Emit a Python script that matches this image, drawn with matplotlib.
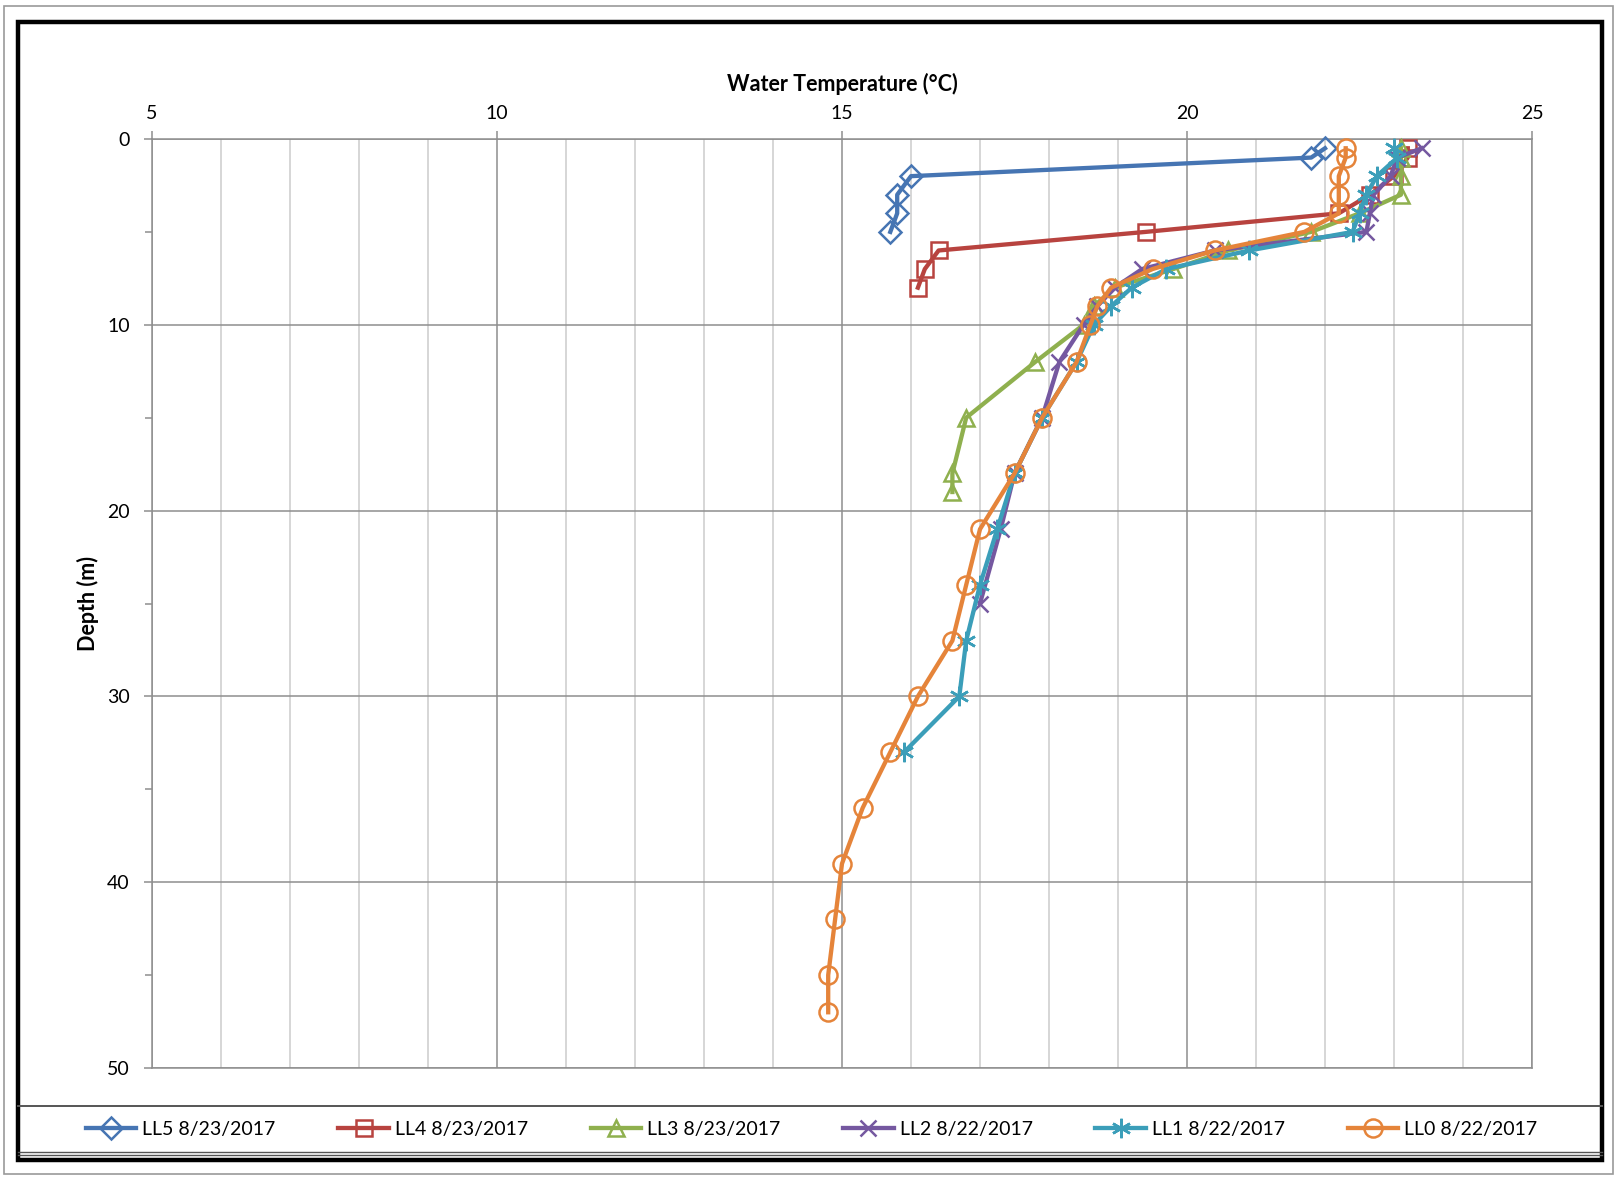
import matplotlib.pyplot as plt
from matplotlib.patches import Rectangle
from matplotlib.lines import Line2D
from matplotlib.ticker import MultipleLocator

plt.rcParams['font.family'] = ['Lato', 'DejaVu Sans']

# depth (m) / water temperature (C) profiles
ll5_depth = [0.5, 1, 2, 3, 4, 5]
ll5_temp = [22.0, 21.8, 16.0, 15.8, 15.8, 15.7]

ll4_depth = [0.5, 1, 2, 3, 4, 5, 6, 7, 8]
ll4_temp = [23.2, 23.2, 23.0, 22.65, 22.2, 19.4, 16.4, 16.2, 16.1]

ll3_depth = [0.5, 1, 2, 3, 4, 5, 6, 7, 8, 9, 10, 12, 15, 18, 19]
ll3_temp = [23.1, 23.1, 23.1, 23.1, 22.5, 21.8, 20.6, 19.8, 18.95, 18.65,
            18.5, 17.8, 16.8, 16.6, 16.6]

ll2_depth = [0.5, 1, 2, 3, 4, 5, 6, 7, 8, 9, 10, 12, 15, 18, 21, 25]
ll2_temp = [23.4, 23.05, 22.95, 22.7, 22.65, 22.6, 20.4, 19.35, 18.95, 18.7,
            18.5, 18.15, 17.9, 17.5, 17.3, 17.0]

ll1_depth = [0.5, 1, 2, 3, 4, 5, 6, 7, 8, 9, 10, 12, 15, 18, 21, 24, 27, 30, 33]
ll1_temp = [23.0, 23.05, 22.75, 22.6, 22.5, 22.4, 20.9, 19.7, 19.2, 18.9,
            18.65, 18.4, 17.9, 17.5, 17.25, 17.0, 16.8, 16.7, 15.9]

ll0_depth = [0.5, 1, 2, 3, 4, 5, 6, 7, 8, 9, 10, 12, 15, 18, 21, 24, 27, 30,
             33, 36, 39, 42, 45, 47]
ll0_temp = [22.3, 22.3, 22.2, 22.2, 22.2, 21.7, 20.4, 19.5, 18.9, 18.7, 18.6,
            18.4, 17.9, 17.5, 17.0, 16.8, 16.6, 16.1, 15.7, 15.3, 15.0, 14.9,
            14.8, 14.8]

labels = ['LL5 8/23/2017', 'LL4 8/23/2017', 'LL3 8/23/2017',
          'LL2 8/22/2017', 'LL1 8/22/2017', 'LL0 8/22/2017']

W, H = 1617, 1177


def fx(x):
    return x / W


def fy(y):
    return 1 - y / H


fig = plt.figure(figsize=(W / 100, H / 100), dpi=100)
ax = fig.add_axes([fx(152), fy(1068), (1532 - 152) / W, (1068 - 139) / H])

series = [
    (ll5_temp, ll5_depth, '#4675B3', 'D', 11),
    (ll4_temp, ll4_depth, '#B8433F', 's', 12),
    (ll3_temp, ll3_depth, '#8FB04E', '^', 12),
    (ll2_temp, ll2_depth, '#7558A0', 'x', 12),
    (ll1_temp, ll1_depth, '#3B9EB9', (6, 2, 0), 14),
    (ll0_temp, ll0_depth, '#E5843A', 'o', 13),
]

for (t, d, c, m, ms), lab in zip(series, labels):
    ax.plot(t, d, color=c, lw=3.1, marker=m, ms=ms, mew=1.8,
            mfc='none', mec=c, label=lab, zorder=3, clip_on=False)

ax.set_xlim(5, 25)
ax.set_ylim(50, 0)
ax.xaxis.tick_top()
ax.xaxis.set_label_position('top')
ax.xaxis.set_major_locator(MultipleLocator(5))
ax.xaxis.set_minor_locator(MultipleLocator(1))
ax.yaxis.set_major_locator(MultipleLocator(10))
ax.yaxis.set_minor_locator(MultipleLocator(5))

ax.set_axisbelow(True)
ax.grid(which='major', color='#8e8e8e', lw=1.1)
ax.grid(which='minor', axis='x', color='#cccccc', lw=1.1)
for s in ax.spines.values():
    s.set_color('#8e8e8e')
    s.set_linewidth(1.1)

ax.tick_params(axis='both', which='major', length=6, width=1.1,
               color='#8e8e8e', labelsize=14, pad=6)
ax.tick_params(axis='x', which='minor', length=0)
ax.tick_params(axis='y', which='minor', length=5, width=1.1, color='#8e8e8e')
ax.tick_params(axis='y', which='major', pad=10)

ax.set_xlabel('Water Temperature (°C)', fontsize=15.5, fontweight='bold',
              labelpad=10)
ax.set_ylabel('Depth (m)', fontsize=15.5, fontweight='bold', labelpad=6)

# chart frame (outer gray border, thick black box, legend separators)
fig.add_artist(Rectangle((fx(4), fy(1174)), (1613 - 4) / W, (1174 - 6) / H,
                         transform=fig.transFigure, fill=False,
                         ec='#9a9a9a', lw=1.2))
fig.add_artist(Rectangle((fx(18), fy(1160)), (1602 - 18) / W, (1160 - 22) / H,
                         transform=fig.transFigure, fill=False,
                         ec='black', lw=3.2))
for yy, lw, c in [(1106, 1.4, '#555555'), (1152, 1.0, '#555555'),
                  (1155, 1.0, '#555555')]:
    fig.add_artist(Line2D([fx(18), fx(1602)], [fy(yy), fy(yy)],
                          transform=fig.transFigure, color=c, lw=lw))

fig.legend(loc='center', ncol=6, frameon=False, fontsize=14,
           bbox_to_anchor=(fx(78), fy(1145), (1545 - 78) / W, (1145 - 1113) / H),
           mode='expand', handlelength=2.6, handletextpad=0.3,
           borderaxespad=0)

fig.savefig('out.png', dpi=100, facecolor='white')
